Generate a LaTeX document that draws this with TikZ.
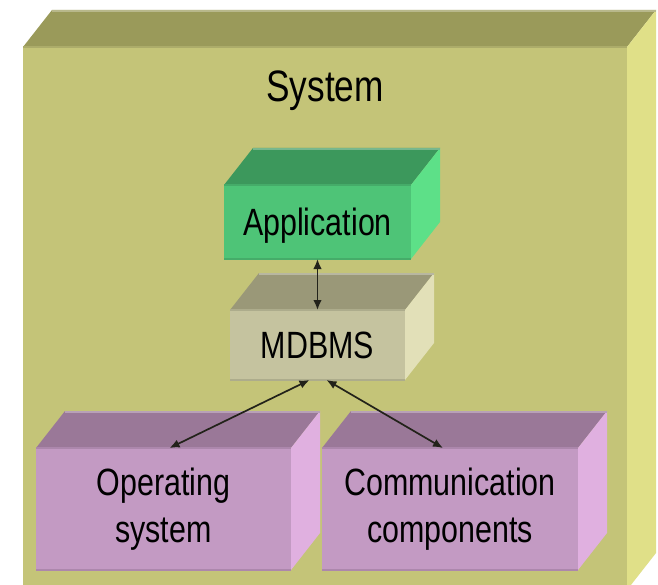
\documentclass[tikz,border=0pt]{standalone}
\usepackage{fontspec}
\setmainfont{Liberation Sans}[FakeStretch=0.8]
\usetikzlibrary{arrows.meta}
\definecolor{sysF}{HTML}{C4C478}
\definecolor{sysT}{HTML}{9A9A5A}
\definecolor{sysS}{HTML}{E0E088}
\definecolor{appF}{HTML}{4EC477}
\definecolor{appT}{HTML}{3C985C}
\definecolor{appS}{HTML}{5DE088}
\definecolor{dbF}{HTML}{C5C39F}
\definecolor{dbT}{HTML}{9A9878}
\definecolor{dbS}{HTML}{E2E0B8}
\definecolor{purF}{HTML}{C39AC3}
\definecolor{purT}{HTML}{9A7898}
\definecolor{purS}{HTML}{E0B0E0}
\definecolor{arrowc}{HTML}{22221A}
\tikzset{
  boxfront/.style={inner sep=0pt, outer sep=0pt, align=center, text=black,
    font=\fontsize{38}{47}\selectfont},
  link/.style={draw=arrowc, line width=1.7pt, {Latex[length=10pt,width=8.5pt]}-{Latex[length=10pt,width=8.5pt]}}
}
\newcommand\cuboid[9]{%
  \node[boxfront, fill=#6, minimum width={(#4-#2)*1pt}, minimum height={(#5-#3)*1pt}] (#1) at ({(#2+#4)/2},{(#3+#5)/2}) {#9};
  \fill[#7] (#1.north west) -- ++(29,-37) -- ([shift={(29,-37)}]#1.north east) -- (#1.north east) -- cycle;
  \fill[#8] (#1.north east) -- ++(29,-37) -- ([shift={(29,-37)}]#1.south east) -- (#1.south east) -- cycle;
  \draw[#7!70!white, line width=2pt] ([shift={(29,-36)}]#1.north west) -- ([shift={(29,-36)}]#1.north east);
  \draw[#6!88!black, line width=1.5pt] (#1.north west) -- (#1.north east);
  \draw[#6!88!black, line width=1.5pt] (#1.south west) -- (#1.south east);
}
\begin{document}
\begin{tikzpicture}[x=1pt,y=-1pt]
\useasboundingbox (0,0) rectangle (658,585);
\clip (0,0) rectangle (658,585);
\fill[white] (0,0) rectangle (658,585);
\cuboid{sys}{23}{47}{627}{590}{sysF}{sysT}{sysS}{}
\node[font=\fontsize{44}{50}\selectfont, anchor=base] (syslabel) at (325,102) {System};
\cuboid{app}{224}{185}{411}{259}{appF}{appT}{appS}{\raisebox{-4pt}[\height][\depth]{Application}}
\cuboid{db}{230}{310}{405}{380}{dbF}{dbT}{dbS}{MDBMS}
\cuboid{os}{36}{448}{291}{570}{purF}{purT}{purS}{Operating\\system}
\cuboid{comm}{322}{448}{578}{570}{purF}{purT}{purS}{Communication\\components}
\draw[link] (app.south) -- (db.north);
\draw[link] ([xshift=-8pt]db.south) -- ([xshift=6pt]os.north);
\draw[link] ([xshift=9pt]db.south) -- ([xshift=-7pt]comm.north);
\end{tikzpicture}
\end{document}
